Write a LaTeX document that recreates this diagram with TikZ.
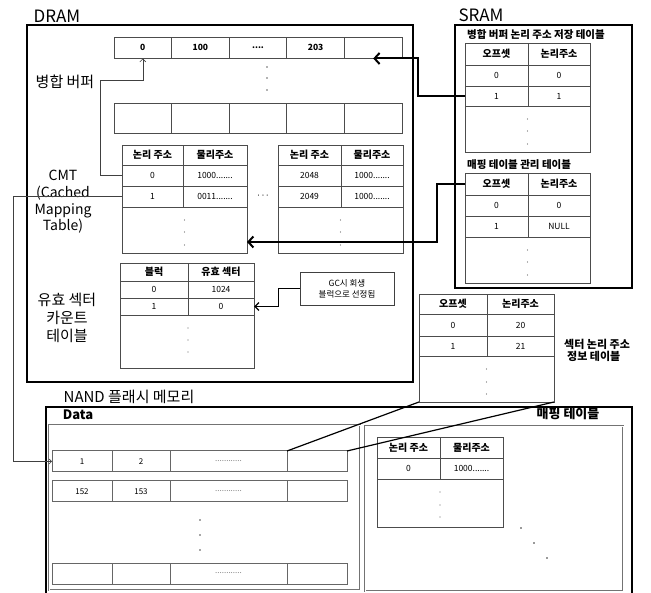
\documentclass[tikz,border=0pt]{standalone}
\usepackage{fontspec}
\setmainfont{Noto Sans CJK KR}
\usetikzlibrary{arrows.meta}
\newcommand\myfourdots{....}
\begin{document}
\begin{tikzpicture}[x=1pt,y=-1pt,
  cell/.style={draw=black!70, line width=0.75pt, inner sep=0pt, outer sep=0pt, anchor=north west, font=\fontsize{8.5}{9}\selectfont},
  hcell/.style={cell, font=\bfseries\fontsize{10}{11}\selectfont},
  bcell/.style={cell, font=\bfseries\fontsize{8.5}{9}\selectfont, minimum width=57.6pt},
  dcell/.style={draw=black!60, line width=1pt, inner sep=0pt, outer sep=0pt, anchor=north west, font=\fontsize{8}{9}\selectfont, minimum height=21pt},
  lbl/.style={font=\fontsize{15}{17}\selectfont, align=center, inner sep=0pt},
  ttl/.style={font=\bfseries\fontsize{10.5}{12}\selectfont, inner sep=0pt},
  bigbox/.style={draw=black, line width=2.2pt},
  subbox/.style={draw=black!55, double=white, double distance=0.8pt, line width=0.5pt},
  thinarr/.style={draw=black!75, line width=0.6pt, -{Straight Barb[length=3pt,width=6pt]}},
  smallarr/.style={draw=black!75, line width=0.6pt, -{Straight Barb[length=2.5pt,width=5pt]}},
  bigarr/.style={draw=black, line width=2pt, -{Straight Barb[length=5pt,width=11pt]}},
  midarr/.style={draw=black, line width=1.3pt, -{Straight Barb[length=4pt,width=8pt]}},
  pline/.style={draw=black, line width=1.2pt},
  dotc/.style={fill=black!60}
]
\useasboundingbox (0,0) rectangle (651,593);

% ---------------- DRAM ----------------
\node[lbl, font=\fontsize{17}{19}\selectfont] (dram) at (57,16) {DRAM};
\draw[bigbox] (27,25) rectangle (413,382);

% merge buffer
\foreach \i/\t in {1/0,2/100,3/\myfourdots,4/203,5/}
  \node[bcell, minimum height=21.5pt] (b\i) at ({114+(\i-1)*57.6},37) {\t};
\foreach \i in {1,2,3,4,5}
  \node[bcell, minimum height=30pt] (c\i) at ({114+(\i-1)*57.6},103) {};
\foreach \yy in {67,78,90} \fill[dotc] (267,\yy) circle (0.8);
\node[lbl] (mbuf) at (65,82) {병합 버퍼};

% CMT tables
\node[lbl, font=\fontsize{14}{16.7}\selectfont] (cmt) at (63,202) {CMT\\(Cached\\Mapping\\Table)};
% table A
\node[hcell, minimum width=61pt, minimum height=20pt] (ca-ha) at (122,145) {논리 주소};
\node[hcell, minimum width=64pt, minimum height=20pt] (ca-hb) at (183,145) {물리주소};
\node[cell, minimum width=61pt, minimum height=21pt] (ca-r1a) at (122,165) {0};
\node[cell, minimum width=64pt, minimum height=21pt] (ca-r1b) at (183,165) {1000.......};
\node[cell, minimum width=61pt, minimum height=21pt] (ca-r2a) at (122,186) {1};
\node[cell, minimum width=64pt, minimum height=21pt] (ca-r2b) at (183,186) {0011.......};
\node[cell, minimum width=125pt, minimum height=46pt] (ca-dots) at (122,207) {};
\foreach \yy in {220,232,245} \fill[dotc] (184.5,\yy) circle (0.6);
% table B
\node[hcell, minimum width=63pt, minimum height=20pt] (cb-ha) at (278,145) {논리 주소};
\node[hcell, minimum width=62pt, minimum height=20pt] (cb-hb) at (341,145) {물리주소};
\node[cell, minimum width=63pt, minimum height=21pt] (cb-r1a) at (278,165) {2048};
\node[cell, minimum width=62pt, minimum height=21pt] (cb-r1b) at (341,165) {1000.......};
\node[cell, minimum width=63pt, minimum height=21pt] (cb-r2a) at (278,186) {2049};
\node[cell, minimum width=62pt, minimum height=21pt] (cb-r2b) at (341,186) {1000.......};
\node[cell, minimum width=125pt, minimum height=46pt] (cb-dots) at (278,207) {};
\foreach \yy in {220,232,245} \fill[dotc] (340.5,\yy) circle (0.6);
\node[font=\fontsize{8}{9}\selectfont, inner sep=0pt] (ell) at (263,197) {···};

% valid sector count table
\node[lbl, font=\fontsize{15}{18}\selectfont] (vsl) at (67,318) {유효 섹터\\카운트\\테이블};
\node[hcell, minimum width=68pt, minimum height=18pt] (vs-ha) at (120,263) {블럭};
\node[hcell, minimum width=66pt, minimum height=18pt] (vs-hb) at (188,263) {유효 섹터};
\node[cell, minimum width=68pt, minimum height=17pt] (vs-r1a) at (120,281) {0};
\node[cell, minimum width=66pt, minimum height=17pt] (vs-r1b) at (188,281) {1024};
\node[cell, minimum width=68pt, minimum height=17pt] (vs-r2a) at (120,298) {1};
\node[cell, minimum width=66pt, minimum height=17pt] (vs-r2b) at (188,298) {0};
\node[cell, minimum width=134pt, minimum height=53pt] (vs-dots) at (120,315) {};
\foreach \yy in {328,340,352} \fill[dotc] (188,\yy) circle (0.6);

\node[draw=black!75, line width=0.8pt, minimum width=94pt, minimum height=33pt, inner sep=0pt, align=center, font=\fontsize{8.5}{11}\selectfont] (gc) at (347,288.5) {GC시 회생\\블럭으로 선정됨};

% ---------------- SRAM ----------------
\node[lbl, font=\fontsize{17}{19}\selectfont] (sram) at (481,15) {SRAM};
\draw[draw=black, line width=2pt] (455,25) rectangle (632,288);
\node[ttl, anchor=west] (t1) at (467,35) {병합 버퍼 논리 주소 저장 테이블};
\node[hcell, minimum width=63pt, minimum height=22pt] (sa-ha) at (465,43) {오프셋};
\node[hcell, minimum width=62pt, minimum height=22pt] (sa-hb) at (528,43) {논리주소};
\node[cell, minimum width=63pt, minimum height=21pt] (sa-r1a) at (465,65) {0};
\node[cell, minimum width=62pt, minimum height=21pt] (sa-r1b) at (528,65) {0};
\node[cell, minimum width=63pt, minimum height=20pt] (sa-r2a) at (465,86) {1};
\node[cell, minimum width=62pt, minimum height=20pt] (sa-r2b) at (528,86) {1};
\node[cell, minimum width=125pt, minimum height=46pt] (sa-dots) at (465,106) {};
\foreach \yy in {119,131,144} \fill[dotc] (527.5,\yy) circle (0.6);

\node[ttl, anchor=west] (t2) at (467,165) {매핑 테이블 관리 테이블};
\node[hcell, minimum width=63pt, minimum height=22pt] (sb-ha) at (465,173) {오프셋};
\node[hcell, minimum width=62pt, minimum height=22pt] (sb-hb) at (528,173) {논리주소};
\node[cell, minimum width=63pt, minimum height=21pt] (sb-r1a) at (465,195) {0};
\node[cell, minimum width=62pt, minimum height=21pt] (sb-r1b) at (528,195) {0};
\node[cell, minimum width=63pt, minimum height=21pt] (sb-r2a) at (465,216) {1};
\node[cell, minimum width=62pt, minimum height=21pt] (sb-r2b) at (528,216) {NULL};
\node[cell, minimum width=125pt, minimum height=46pt] (sb-dots) at (465,237) {};
\foreach \yy in {250,262,275} \fill[dotc] (527.5,\yy) circle (0.6);

% sector logical address info table
\node[hcell, minimum width=68pt, minimum height=20pt] (sc-ha) at (419,294) {오프셋};
\node[hcell, minimum width=67pt, minimum height=20pt] (sc-hb) at (487,294) {논리주소};
\node[cell, minimum width=68pt, minimum height=22pt] (sc-r1a) at (419,314) {0};
\node[cell, minimum width=67pt, minimum height=22pt] (sc-r1b) at (487,314) {20};
\node[cell, minimum width=68pt, minimum height=20pt] (sc-r2a) at (419,336) {1};
\node[cell, minimum width=67pt, minimum height=20pt] (sc-r2b) at (487,336) {21};
\node[cell, minimum width=135pt, minimum height=46pt] (sc-dots) at (419,356) {};
\foreach \yy in {369,382,394} \fill[dotc] (486.5,\yy) circle (0.6);
\node[ttl, font=\bfseries\fontsize{11}{12}\selectfont, anchor=west, align=left] (t3) at (564,350.5) {섹터 논리 주소\\\hspace{3pt}정보 테이블};

% ---------------- NAND ----------------
\node[lbl] (nand) at (129,397) {NAND 플래시 메모리};
\draw[bigbox] (46,407) rectangle (632,620);
\draw[subbox] (49,425) rectangle (360,590);
\draw[subbox] (365,426) rectangle (623,591);
\node[font=\bfseries\fontsize{13}{14}\selectfont, inner sep=0pt] (datal) at (78,415) {Data};
\node[font=\bfseries\fontsize{13}{14}\selectfont, inner sep=0pt] (mapl) at (568,414) {매핑 테이블};

\foreach \r/\yy/\ta/\tb in {1/451/1/2, 2/481/152/153, 3/563//} {
  \node[dcell, minimum width=60pt] (d\r a) at (52,\yy) {\ta};
  \node[dcell, minimum width=58pt] (d\r b) at (112,\yy) {\tb};
  \node[dcell, minimum width=117pt, text=black!50] (d\r c) at (170,\yy) {\myfourdots\myfourdots\myfourdots};
  \node[dcell, minimum width=60pt] (d\r d) at (287,\yy) {};
}
\foreach \yy in {520,535,550} \fill[black!70] (200,\yy) circle (0.9);

% mapping inner table
\node[hcell, minimum width=63pt, minimum height=21pt] (mi-ha) at (377,437) {논리 주소};
\node[hcell, minimum width=63pt, minimum height=21pt] (mi-hb) at (440,437) {물리주소};
\node[cell, minimum width=63pt, minimum height=21pt] (mi-r1a) at (377,458) {0};
\node[cell, minimum width=63pt, minimum height=21pt] (mi-r1b) at (440,458) {1000.......};
\node[cell, minimum width=126pt, minimum height=48pt] (mi-dots) at (377,479) {};
\foreach \yy in {492,505,517} \fill[dotc] (440,\yy) circle (0.6);
\foreach \xx/\yy in {521/528,534/543,547/558} \fill[black!80] (\xx,\yy) circle (0.9);

% ---------------- connectors ----------------
\draw[thinarr] (ca-r1a.west) -- ++(-22,0) -- ++(0,-95) -| (b1.south);
\draw[smallarr] (ca-r2a.west) -- ++(-109,0) |- (d1a.west);
\draw[bigarr] (sa-r2a.west) -- ++(-47,0) |- (b5.south);
\draw[bigarr] (sb-ha.west) -- ++(-28,0) |- ([yshift=-12pt]ca-dots.east);
\draw[midarr] (gc.west) -- ++(-21,0) |- (vs-r2b.east);
\draw[pline] (sc-dots.south west) -- (d1d.north west);
\draw[pline] (sc-dots.south east) -- (d1d.north east);
\end{tikzpicture}
\end{document}
